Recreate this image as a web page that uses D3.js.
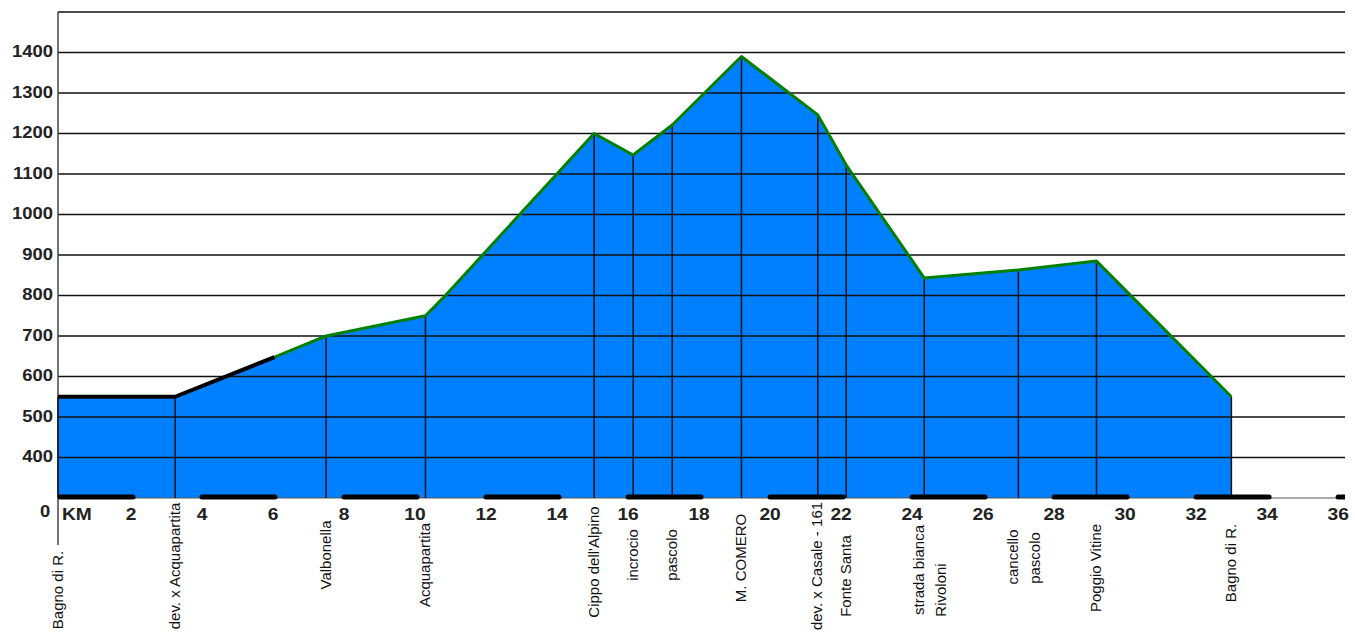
<!DOCTYPE html>
<html>
<head>
<meta charset="utf-8">
<script src="https://cdn.jsdelivr.net/npm/d3@7"></script>
<style>
  body { margin: 0; background: #fff; }
  text { font-family: "Liberation Sans", Arial, sans-serif; }
</style>
</head>
<body>
<div id="chart"></div>
<script>
// profile: distance (km) and elevation (m)
const profileKm = [0, 3.3, 6.1, 7.55, 10.35, 10.85, 15.1, 16.2, 17.3, 19.25, 21.4, 22.2, 24.4, 27.05, 29.25, 33.05];
const profileElev = [550, 550, 648, 700, 750, 794, 1200, 1147, 1221, 1390, 1246, 1122, 843, 863, 885, 550];

// the first stretch is drawn black, the rest green
const blackUntilKm = 6.1;

// waypoints
const waypointKm = [0, 3.3, 7.55, 10.35, 15.1, 16.2, 17.3, 19.25, 21.4, 22.2, 24.4, 27.05, 29.25, 33.05];
const waypointNames = [
  ["Bagno di R."],
  ["dev. x Acquapartita"],
  ["Valbonella"],
  ["Acquapartita"],
  ["Cippo dell'Alpino"],
  ["incrocio"],
  ["pascolo"],
  ["M. COMERO"],
  ["dev. x Casale - 161"],
  ["Fonte Santa"],
  ["strada bianca", "Rivoloni"],
  ["cancello", "pascolo"],
  ["Poggio Vitine"],
  ["Bagno di R."]
];

// axis labels
const yTicks = [400, 500, 600, 700, 800, 900, 1000, 1100, 1200, 1300, 1400];
const gridTicks = [400, 500, 600, 700, 800, 900, 1000, 1100, 1200, 1300, 1400, 1500];
const xTicks = [0, 2, 4, 6, 8, 10, 12, 14, 16, 18, 20, 22, 24, 26, 28, 30, 32, 34, 36];
const xTickLabels = ["KM", "2", "4", "6", "8", "10", "12", "14", "16", "18", "20", "22", "24", "26", "28", "30", "32", "34", "36"];

// layout only: vertical centre of each waypoint label
const labelMid = [590, 566, 555, 565, 562, 555, 555, 558, 566, 576, [570, 590], [557, 558], 568, 563];

const width = 1355;
const height = 632;

const svg = d3
  .select("#chart")
  .append("svg")
  .attr("width", width)
  .attr("height", height);

const x = d3.scaleLinear().domain([0, 36.25]).range([58, 1345]);
const y = d3.scaleLinear().domain([300, 1500]).range([498, 12]);

const profile = profileKm.map((k, i) => ({ km: k, elev: profileElev[i] }));

// filled area
const area = d3
  .area()
  .x((d) => x(d.km))
  .y0(y(300))
  .y1((d) => y(d.elev));

svg
  .append("path")
  .datum(profile)
  .attr("fill", "#0080ff")
  .attr("d", area);

// horizontal grid
svg
  .append("g")
  .selectAll("line")
  .data(gridTicks)
  .join("line")
  .attr("x1", x(0))
  .attr("x2", x.range()[1])
  .attr("y1", (d) => y(d))
  .attr("y2", (d) => y(d))
  .attr("stroke", "#111")
  .attr("stroke-width", 1.3);

// baseline
svg
  .append("line")
  .attr("x1", x(0))
  .attr("x2", x.range()[1])
  .attr("y1", y(300))
  .attr("y2", y(300))
  .attr("stroke", "#555")
  .attr("stroke-width", 1);

// left axis
svg
  .append("line")
  .attr("x1", x(0))
  .attr("x2", x(0))
  .attr("y1", y(1500))
  .attr("y2", 545)
  .attr("stroke", "#444")
  .attr("stroke-width", 1.5);

// drop lines at waypoints
const elevAt = (k) => profileElev[profileKm.indexOf(k)];

svg
  .append("g")
  .selectAll("line")
  .data(waypointKm)
  .join("line")
  .attr("x1", (d) => x(d))
  .attr("x2", (d) => x(d))
  .attr("y1", (d) => y(elevAt(d)))
  .attr("y2", y(300))
  .attr("stroke", "#111")
  .attr("stroke-width", 1.5);

// km scale bars on the baseline (every other 2 km)
svg.append("clipPath")
  .attr("id", "axis-clip")
  .append("rect")
  .attr("x", x(0))
  .attr("y", 480)
  .attr("width", x.range()[1] - x(0))
  .attr("height", 40);

svg
  .append("g")
  .attr("clip-path", "url(#axis-clip)")
  .selectAll("line")
  .data(xTicks.filter((d) => d % 4 === 0))
  .join("line")
  .attr("x1", (d) => x(d) + 2)
  .attr("x2", (d) => x(d + 2) + 4)
  .attr("y1", y(300) - 1)
  .attr("y2", y(300) - 1)
  .attr("stroke", "#000")
  .attr("stroke-width", 5)
  .attr("stroke-linecap", "round");

// profile line
const line = d3
  .line()
  .x((d) => x(d.km))
  .y((d) => y(d.elev));

svg
  .append("path")
  .datum(profile.filter((d) => d.km >= blackUntilKm))
  .attr("fill", "none")
  .attr("stroke", "#008000")
  .attr("stroke-width", 3)
  .attr("stroke-linejoin", "round")
  .attr("d", line);

svg
  .append("path")
  .datum(profile.filter((d) => d.km <= blackUntilKm))
  .attr("fill", "none")
  .attr("stroke", "#000")
  .attr("stroke-width", 4)
  .attr("stroke-linejoin", "round")
  .attr("d", line);

// y labels
svg
  .append("g")
  .selectAll("text")
  .data(yTicks)
  .join("text")
  .attr("transform", (d) => `translate(53,${y(d) - 1}) scale(1.15,1)`)
  .attr("text-anchor", "end")
  .attr("dominant-baseline", "central")
  .attr("font-size", 16)
  .attr("font-weight", "bold")
  .attr("fill", "#222")
  .text((d) => d);

svg
  .append("text")
  .attr("transform", "translate(45,511) scale(1.15,1)")
  .attr("text-anchor", "middle")
  .attr("dominant-baseline", "central")
  .attr("font-size", 16)
  .attr("font-weight", "bold")
  .attr("fill", "#222")
  .text("0");

// x labels
svg
  .append("g")
  .selectAll("text")
  .data(xTicks)
  .join("text")
  .attr("transform", (d, i) =>
    i === 0 ? `translate(62,520) scale(1.2,1)` : `translate(${x(d) + 2},520) scale(1.2,1)`
  )
  .attr("text-anchor", (d, i) => (i === 0 ? "start" : "middle"))
  .attr("font-size", 16)
  .attr("font-weight", "bold")
  .attr("fill", "#222")
  .text((d, i) => xTickLabels[i]);

// waypoint labels, rotated
const labels = svg.append("g");
waypointKm.forEach((k, i) => {
  const names = waypointNames[i];
  names.forEach((name, j) => {
    const dx = names.length === 1 ? -1 : j === 0 ? -6 : 16;
    const mid = Array.isArray(labelMid[i]) ? labelMid[i][j] : labelMid[i];
    labels
      .append("text")
      .attr("transform", `translate(${x(k) + dx},${mid}) rotate(-90)`)
      .attr("text-anchor", "middle")
      .attr("dominant-baseline", "central")
      .attr("font-size", 15)
      .attr("fill", "#111")
      .text(name);
  });
});
</script>
</body>
</html>
